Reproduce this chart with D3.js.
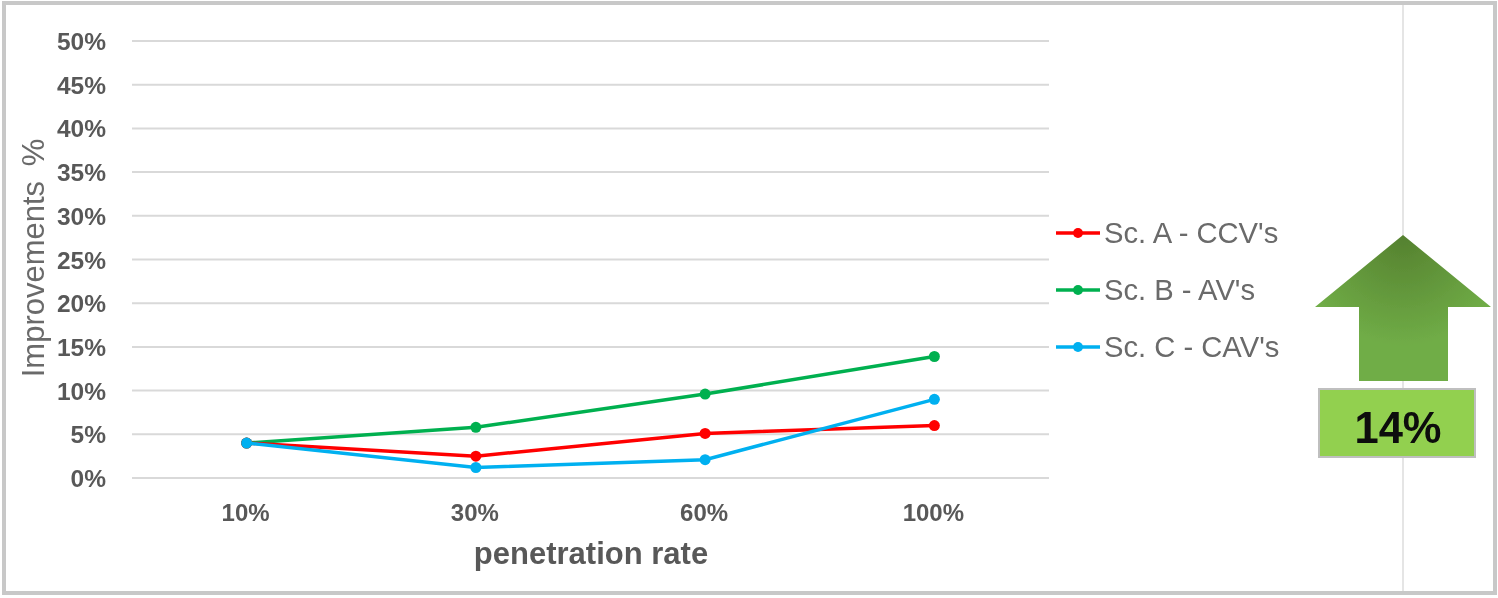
<!DOCTYPE html>
<html>
<head>
<meta charset="utf-8">
<script src="https://cdn.jsdelivr.net/npm/d3@7"></script>
<style>
  html, body { margin: 0; padding: 0; background: #fff; overflow: hidden; }
  svg { display: block; font-family: "Liberation Sans", Arial, sans-serif; }
</style>
</head>
<body>
<svg width="1498" height="598"></svg>
<script>
  const categories = ["10%", "30%", "60%", "100%"];
  const yTicks = [0, 5, 10, 15, 20, 25, 30, 35, 40, 45, 50];
  const scA = [4.0, 2.5, 5.1, 6.0];
  const scB = [4.0, 5.8, 9.6, 13.9];
  const scC = [4.0, 1.2, 2.1, 9.0];
  const seriesNames = ["Sc. A - CCV's", "Sc. B - AV's", "Sc. C - CAV's"];
  const seriesColors = ["#ff0000", "#00b050", "#00b0f0"];
  const badgeLabel = "14%";

  const series = [scB, scA, scC];
  const drawColors = [seriesColors[1], seriesColors[0], seriesColors[2]];

  const svg = d3.select("svg");
  const defs = svg.append("defs");

  // the reference is a soft raster, a slight blur gets the edges closer
  defs.append("filter")
    .attr("id", "soft")
    .attr("x", 0).attr("y", 0).attr("width", 1).attr("height", 1)
    .attr("filterUnits", "objectBoundingBox")
    .append("feGaussianBlur")
    .attr("stdDeviation", 0.55);

  const root = svg.append("g").attr("filter", "url(#soft)");

  root.append("rect")
    .attr("width", 1498).attr("height", 598).attr("fill", "#fff");

  // outer frame
  root.append("rect")
    .attr("x", 4).attr("y", 3).attr("width", 1491).attr("height", 590)
    .attr("fill", "#fff").attr("stroke", "#c8c8c8").attr("stroke-width", 4);

  // thin vertical line behind the arrow
  root.append("line")
    .attr("x1", 1403).attr("x2", 1403).attr("y1", 5).attr("y2", 591)
    .attr("stroke", "#d4d4d4").attr("stroke-width", 1.2);

  const x = d3.scaleBand().domain(categories).range([132, 1049]);
  const y = d3.scaleLinear().domain([0, 50]).range([478, 41]);
  const xc = (i) => x(categories[i]) + x.bandwidth() / 2;

  root.append("g")
    .selectAll("line")
    .data(yTicks)
    .join("line")
    .attr("x1", 132)
    .attr("x2", 1049)
    .attr("y1", (d) => y(d))
    .attr("y2", (d) => y(d))
    .attr("stroke", "#d9d9d9")
    .attr("stroke-width", 2);

  root.append("g")
    .selectAll("text")
    .data(yTicks)
    .join("text")
    .attr("x", 106)
    .attr("y", (d) => y(d) + 9)
    .attr("text-anchor", "end")
    .attr("font-size", 24.5)
    .attr("font-weight", "bold")
    .attr("fill", "#595959")
    .text((d) => d + "%");

  root.append("g")
    .selectAll("text")
    .data(categories)
    .join("text")
    .attr("x", (d) => x(d) + x.bandwidth() / 2 - 1)
    .attr("y", 521)
    .attr("text-anchor", "middle")
    .attr("font-size", 24)
    .attr("font-weight", "bold")
    .attr("fill", "#595959")
    .text((d) => d);

  root.append("text")
    .attr("x", 591)
    .attr("y", 564)
    .attr("text-anchor", "middle")
    .attr("font-size", 31)
    .attr("font-weight", "bold")
    .attr("fill", "#595959")
    .text("penetration rate");

  root.append("text")
    .attr("transform", "translate(44,258) rotate(-90)")
    .attr("text-anchor", "middle")
    .attr("font-size", 31)
    .attr("word-spacing", 6)
    .attr("fill", "#6a6a6a")
    .text("Improvements %");

  const line = d3.line()
    .x((d, i) => xc(i))
    .y((d) => y(d));

  series.forEach((values, s) => {
    root.append("path")
      .attr("d", line(values))
      .attr("fill", "none")
      .attr("stroke", drawColors[s])
      .attr("stroke-width", 3.5);
    root.append("g")
      .selectAll("circle")
      .data(values)
      .join("circle")
      .attr("cx", (d, i) => xc(i))
      .attr("cy", (d) => y(d))
      .attr("r", 5.5)
      .attr("fill", drawColors[s]);
  });

  // legend
  const legendY = d3.scalePoint().domain(seriesNames).range([233, 347]);
  const legend = root.append("g")
    .selectAll("g")
    .data(seriesNames)
    .join("g")
    .attr("transform", (d) => `translate(0,${legendY(d)})`);
  legend.append("line")
    .attr("x1", 1056).attr("x2", 1100)
    .attr("stroke", (d, i) => seriesColors[i])
    .attr("stroke-width", 3.5);
  legend.append("circle")
    .attr("cx", 1078).attr("r", 5)
    .attr("fill", (d, i) => seriesColors[i]);
  legend.append("text")
    .attr("x", 1104)
    .attr("y", 10)
    .attr("font-size", 29.2)
    .attr("fill", "#6a6a6a")
    .text((d) => d);

  // arrow
  const grad = defs.append("radialGradient")
    .attr("id", "arrowFill")
    .attr("gradientUnits", "userSpaceOnUse")
    .attr("cx", 1403).attr("cy", 236).attr("r", 110);
  grad.append("stop").attr("offset", "0%").attr("stop-color", "#55812f");
  grad.append("stop").attr("offset", "100%").attr("stop-color", "#70ad47");

  root.append("path")
    .attr("d", d3.line()([[1403, 235], [1491, 307], [1448, 307], [1448, 381], [1359, 381], [1359, 307], [1315, 307]]) + "Z")
    .attr("fill", "url(#arrowFill)");

  root.append("rect")
    .attr("x", 1319).attr("y", 389).attr("width", 156).attr("height", 68)
    .attr("fill", "#92d050")
    .attr("stroke", "#bfbfbf")
    .attr("stroke-width", 2);

  root.append("text")
    .attr("x", 1398)
    .attr("y", 443)
    .attr("text-anchor", "middle")
    .attr("font-size", 43.5)
    .attr("font-weight", "bold")
    .attr("fill", "#0a0a0a")
    .text(badgeLabel);
</script>
</body>
</html>
